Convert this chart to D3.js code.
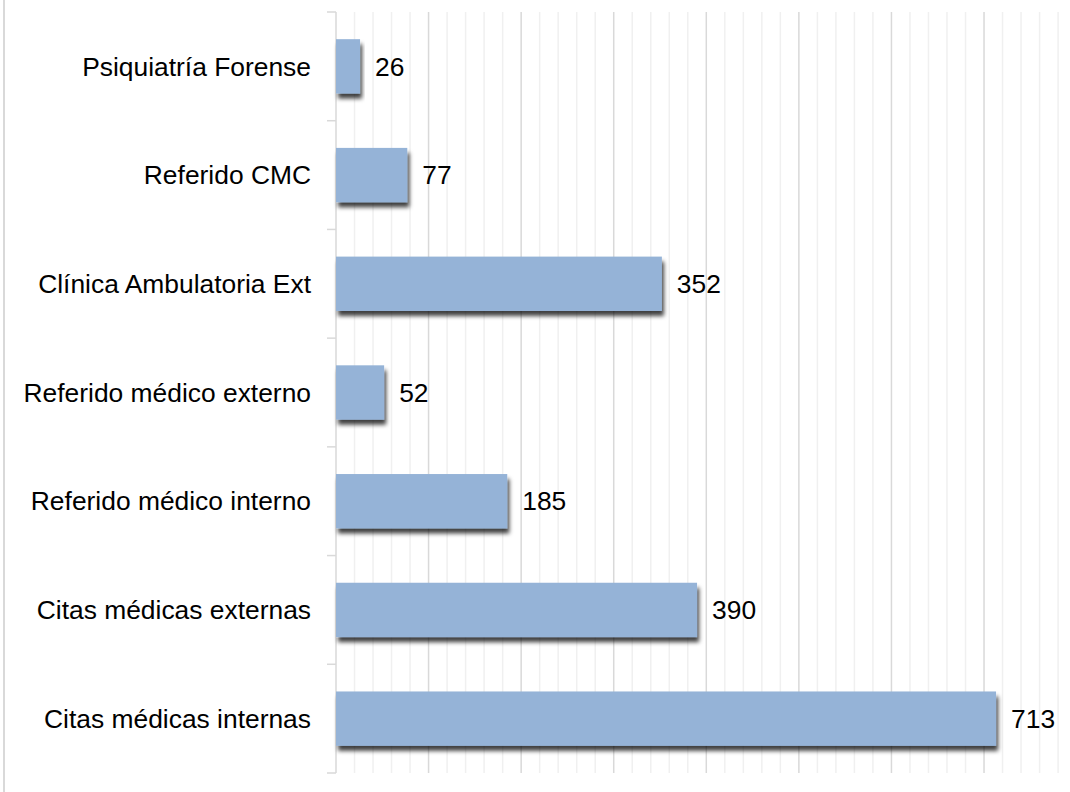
<!DOCTYPE html>
<html><head><meta charset="utf-8">
<script src="https://cdn.jsdelivr.net/npm/d3@7"></script>
<style>html,body{margin:0;padding:0;background:#fff;}svg{display:block;}</style>
</head><body>
<svg id="chart" width="1070" height="792"></svg>
<script>
const categories = ["Psiquiatría Forense","Referido CMC","Clínica Ambulatoria Ext","Referido médico externo","Referido médico interno","Citas médicas externas","Citas médicas internas"];
const values = [26, 77, 352, 52, 185, 390, 713];
const majorTicks = [0,100,200,300,400,500,600,700,800];
const minorTicks = d3.range(0, 801, 20);

const svg = d3.select("#chart");
const W = 1070, H = 792;
const x = d3.scaleLinear().domain([0, 800]).range([336, 1076.6]);
const y = d3.scaleBand().domain(categories).range([12, 773]).paddingInner(0.5).paddingOuter(0.25);

// chart border (left edge visible)
svg.append("line").attr("x1",4).attr("x2",4).attr("y1",0).attr("y2",H)
  .attr("stroke","#d9d9d9").attr("stroke-width",2);

const defs = svg.append("defs");
const f = defs.append("filter").attr("id","shadow").attr("x","-10%").attr("y","-20%").attr("width","130%").attr("height","170%");
f.append("feDropShadow").attr("dx",2).attr("dy",5).attr("stdDeviation",2)
  .attr("flood-color","#000").attr("flood-opacity",0.75);

// minor gridlines
svg.append("g").selectAll("line").data(minorTicks.filter(d => d % 100 !== 0)).join("line")
  .attr("x1", d => x(d)).attr("x2", d => x(d)).attr("y1", 12).attr("y2", 773)
  .attr("stroke", "#f0f0f0").attr("stroke-width", 1.5);
// major gridlines
svg.append("g").selectAll("line").data(majorTicks.filter(d => d > 0)).join("line")
  .attr("x1", d => x(d)).attr("x2", d => x(d)).attr("y1", 12).attr("y2", 773)
  .attr("stroke", "#d9d9d9").attr("stroke-width", 1.5);

// category axis with ticks at band edges
const edges = categories.map(c => y(c) - y.step()*y.paddingInner()/2).concat([773]);
const axisG = svg.append("g");
axisG.append("line").attr("x1",336).attr("x2",336).attr("y1",12).attr("y2",773)
  .attr("stroke","#d9d9d9").attr("stroke-width",1.5);
axisG.selectAll("line.tick").data(edges).join("line").attr("class","tick")
  .attr("x1",327).attr("x2",336).attr("y1",d=>d).attr("y2",d=>d)
  .attr("stroke","#d9d9d9").attr("stroke-width",1.5);

// bars
svg.append("g").selectAll("rect").data(values).join("rect")
  .attr("x", x(0)).attr("y", (d,i) => y(categories[i]))
  .attr("width", d => x(d) - x(0)).attr("height", y.bandwidth())
  .attr("fill", "#95b3d7").attr("filter","url(#shadow)");

// category labels
svg.append("g").selectAll("text").data(categories).join("text")
  .attr("x", 311).attr("y", d => y(d) + y.bandwidth()/2).attr("dy","0.35em")
  .attr("text-anchor","end").attr("font-family","'Liberation Sans', Arial, sans-serif")
  .attr("font-size", 26.4).attr("fill","#000").text(d => d);

// value labels
svg.append("g").selectAll("text").data(values).join("text")
  .attr("x", d => x(d) + 15).attr("y", (d,i) => y(categories[i]) + y.bandwidth()/2).attr("dy","0.35em")
  .attr("font-family","'Liberation Sans', Arial, sans-serif")
  .attr("font-size", 26.4).attr("fill","#000").text(d => d);
</script>
</body></html>
